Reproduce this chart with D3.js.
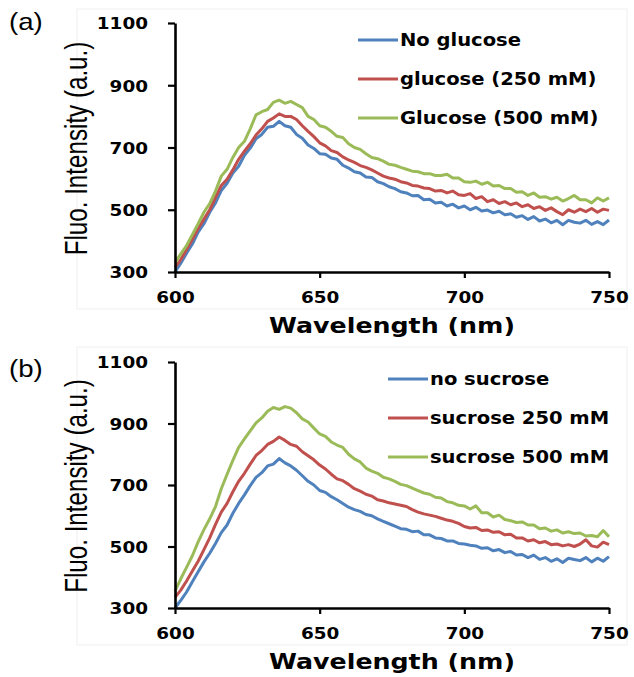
<!DOCTYPE html>
<html>
<head>
<meta charset="utf-8">
<script src="https://cdn.jsdelivr.net/npm/d3@7"></script>
<style>
  body { margin: 0; background: #fff; }
  svg { display: block; }
</style>
</head>
<body>
<svg id="chart" width="634" height="677"></svg>
<script>
// wavelength grid (nm)
const wavelengths = [
  600,602,604,606,608,610,612,614,616,618,
  620,622,624,626,628,630,632,634,636,638,
  640,642,644,646,648,650,652,654,656,658,
  660,662,664,666,668,670,672,674,676,678,
  680,682,684,686,688,690,692,694,696,698,
  700,702,704,706,708,710,712,714,716,718,
  720,722,724,726,728,730,732,734,736,738,
  740,742,744,746,748,750
];

// panel (a)
const noGlucose = [
  300,328,360,390,428,455,492,522,562,585,
  618,640,675,698,728,742,765,768,784,770,
  765,742,730,708,697,680,678,666,662,643,
  634,622,618,605,604,590,584,574,568,558,
  554,545,546,532,534,522,524,512,518,506,
  512,500,508,496,499,490,495,484,487,476,
  481,469,478,464,470,458,466,452,466,460,
  457,466,453,462,452,467
];
const glucose250 = [
  315,340,372,405,440,470,500,540,578,598,
  628,662,688,712,740,760,784,795,808,800,
  800,790,770,752,735,715,705,690,684,670,
  660,652,642,636,628,618,608,602,598,590,
  586,578,576,570,568,560,562,554,560,548,
  546,552,536,542,526,532,520,526,516,522,
  510,516,504,510,498,506,494,484,500,492,
  502,494,504,492,502,498
];
const glucose500 = [
  330,358,385,420,455,492,520,560,608,630,
  668,700,720,760,805,815,822,845,852,842,
  848,838,828,800,790,770,765,752,736,732,
  712,700,694,680,668,664,656,646,643,636,
  630,624,622,616,616,610,610,614,602,602,
  590,588,592,582,588,576,578,568,568,556,
  558,546,554,540,542,534,540,528,536,546,
  532,532,522,538,528,538
];

// panel (b)
const noSucrose = [
  300,325,352,385,418,450,478,510,545,570,
  608,640,668,698,725,740,762,768,786,772,
  762,748,730,712,700,682,676,662,652,640,
  628,620,614,604,600,590,582,574,566,558,
  556,548,550,538,538,528,526,518,518,510,
  508,504,502,494,496,486,490,480,484,472,
  474,464,472,458,464,452,460,448,462,458,
  454,464,450,462,452,467
];
const sucrose250 = [
  335,358,388,420,452,490,528,572,612,640,
  678,712,738,768,796,812,832,842,856,845,
  832,826,808,795,782,765,752,735,720,714,
  702,688,680,670,664,652,648,642,638,634,
  630,620,612,606,602,598,592,586,582,575,
  565,560,562,552,554,546,548,538,540,528,
  528,518,522,512,516,506,508,502,506,500,
  508,522,502,498,514,506
];
const sucrose500 = [
  355,395,432,470,515,555,590,630,688,735,
  780,822,850,876,902,918,940,952,946,955,
  950,935,915,905,885,866,858,840,830,822,
  800,785,775,755,745,738,725,720,712,702,
  698,690,682,674,670,660,658,646,642,634,
  632,622,632,610,610,596,602,588,584,578,
  580,570,570,558,560,550,554,544,548,542,
  544,534,536,532,552,532
];

const xTicks = [600, 650, 700, 750];
const yTicks = [300, 500, 700, 900, 1100];
const glucoseLabels = ['No glucose', 'glucose (250 mM)', 'Glucose (500 mM)'];
const sucroseLabels = ['no sucrose', 'sucrose 250 mM', 'sucrose 500 mM'];

const colors = ['#4f81bd', '#c0504d', '#9bbb59'];
const stretch = 'scale(1.15,1)';   // the picture is a little wide, fonts follow it
const boldFont = '"DejaVu Sans", sans-serif';
const plainFont = '"Liberation Sans", Arial, sans-serif';

const svg = d3.select('#chart');

function drawPanel({tag, series, labels, top, bottom, tagY, legendX, legendY, frame}) {
    const x = d3.scaleLinear().domain([600, 750]).range([175, 609]);
    const y = d3.scaleLinear().domain([300, 1100]).range([bottom, top]);
    const g = svg.append('g');

    //faint chart area border
    g.append('rect')
        .attr('x', 77).attr('y', frame[0])
        .attr('width', 550).attr('height', frame[1] - frame[0])
        .attr('fill', 'none')
        .attr('stroke', '#efefef');

    //series
    const line = d3.line()
        .x((d, i) => x(wavelengths[i]))
        .y(d => y(d));
    series.forEach((values, i) => {
        g.append('path')
            .attr('d', line(values))
            .attr('fill', 'none')
            .attr('stroke', colors[i])
            .attr('stroke-width', 3)
            .attr('stroke-linejoin', 'round');
    });

    //axes
    const yAxis = g.append('g')
        .attr('transform', 'translate(175,0)')
        .call(d3.axisLeft(y).tickValues(yTicks).tickSize(7).tickSizeOuter(0).tickFormat(d3.format('d')));
    yAxis.selectAll('.tick text')
        .attr('x', 0)
        .attr('dy', '0.36em')
        .attr('transform', `translate(-27,0) ${stretch}`);

    const xAxis = g.append('g')
        .attr('transform', `translate(0,${bottom})`)
        .call(d3.axisBottom(x).tickValues(xTicks).tickSize(6).tickSizeOuter(0).tickFormat(d3.format('d')));
    xAxis.selectAll('.tick text')
        .attr('y', 0)
        .attr('dy', 0)
        .attr('transform', `translate(0,31) ${stretch}`);

    [yAxis, xAxis].forEach(a => {
        a.select('.domain').attr('stroke', '#000').attr('stroke-width', 2.6);
        a.selectAll('.tick line').attr('stroke', '#000').attr('stroke-width', 2.2);
        a.selectAll('.tick text')
            .attr('fill', '#000')
            .style('font-family', boldFont)
            .style('font-weight', 'bold')
            .style('font-size', '16px');
    });

    //axis titles
    g.append('text')
        .attr('transform', `translate(392,${bottom + 61}) ${stretch}`)
        .attr('text-anchor', 'middle')
        .style('font-family', boldFont)
        .style('font-weight', 'bold')
        .style('font-size', '22px')
        .text('Wavelength (nm)');

    g.append('text')
        .attr('transform', `translate(87,${(top + bottom) / 2 + 1}) scale(1.2,0.93) rotate(-90)`)
        .attr('text-anchor', 'middle')
        .style('font-family', plainFont)
        .style('font-size', '26px')
        .text('Fluo. Intensity (a.u.)');

    g.append('text')
        .attr('transform', `translate(9,${tagY}) ${stretch}`)
        .style('font-family', plainFont)
        .style('font-size', '24px')
        .text(tag);

    //legend
    labels.forEach((label, i) => {
        const ly = legendY + i * 39;
        g.append('line')
            .attr('x1', legendX).attr('x2', legendX + 40)
            .attr('y1', ly).attr('y2', ly)
            .attr('stroke', colors[i])
            .attr('stroke-width', 3);
        g.append('text')
            .attr('transform', `translate(${legendX + 42},${ly + 6}) ${stretch}`)
            .style('font-family', boldFont)
            .style('font-weight', 'bold')
            .style('font-size', '17px')
            .text(label);
    });
}

drawPanel({
    tag: '(a)',
    series: [noGlucose, glucose250, glucose500],
    labels: glucoseLabels,
    top: 23, bottom: 272, tagY: 30,
    legendX: 358, legendY: 40,
    frame: [9, 309]
});

drawPanel({
    tag: '(b)',
    series: [noSucrose, sucrose250, sucrose500],
    labels: sucroseLabels,
    top: 362, bottom: 608, tagY: 377,
    legendX: 388, legendY: 379,
    frame: [347, 645]
});
</script>
</body>
</html>
